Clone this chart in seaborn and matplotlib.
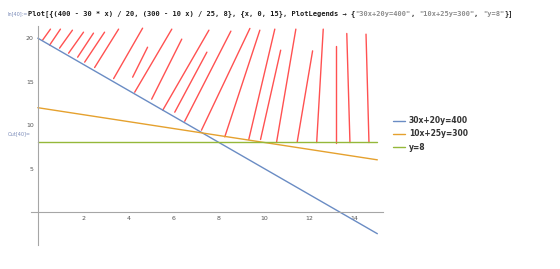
import numpy as np
import pandas as pd
import matplotlib
matplotlib.use('Agg')
import matplotlib.pyplot as plt
import seaborn as sns

## ============================================================= ##
## data
## ============================================================= ##

x_ends = [0, 15]
line_labels = ['30x+20y=400', '10x+25y=300', 'y=8']
line_values = [[20.0, -2.5], [12.0, 6.0], [8.0, 8.0]]
line_colors = ['#6a8cc4', '#e5a12e', '#95b83a']

# hand drawn red hatching, (x0, y0, x1, y1) in data units
red_x0 = [0.21, 0.52, 0.96, 1.36, 1.76, 2.07, 2.51, 3.35, 4.19, 4.28, 5.03, 5.52,
          6.05, 6.49, 7.23, 8.26, 9.32, 9.84, 10.55, 11.46, 12.32, 13.17, 13.79, 14.63]
red_y0 = [19.77, 19.19, 18.85, 18.27, 17.81, 17.24, 16.62, 15.35, 15.51, 13.78, 12.98, 11.71,
          11.48, 10.44, 9.41, 8.64, 8.34, 8.34, 8.06, 8.06, 7.99, 7.99, 7.99, 7.99]
red_x1 = [0.56, 1.00, 1.53, 2.02, 2.46, 2.95, 3.57, 4.63, 4.85, 5.92, 6.36, 7.56,
          7.47, 8.53, 9.37, 9.81, 10.47, 10.73, 11.40, 12.14, 12.61, 13.17, 13.65, 14.50]
red_y1 = [21.04, 21.04, 20.92, 20.69, 20.58, 20.69, 21.04, 21.15, 18.96, 21.04, 19.89, 20.92,
          18.39, 20.81, 21.12, 20.92, 21.04, 18.62, 21.04, 18.54, 21.04, 19.08, 20.54, 20.46]

xtick_major = [2, 4, 6, 8, 10, 12, 14]
ytick_major = [5, 10, 15, 20]

code_parts = [
    ('Plot[{(400 - 30 * x) / 20, (300 - 10 x) / 25, 8}, {x, 0, 15}, PlotLegends \u2192 {', '#1a1a1a'),
    ('"30x+20y=400"', '#8c8c8c'), (', ', '#1a1a1a'),
    ('"10x+25y=300"', '#8c8c8c'), (', ', '#1a1a1a'),
    ('"y=8"', '#8c8c8c'), ('}]', '#1a1a1a'),
]

## ============================================================= ##

rows = []
for lab, vals in zip(line_labels, line_values):
    for xv, yv in zip(x_ends, vals):
        rows.append({'x': xv, 'y': yv, 'curve': lab})
df = pd.DataFrame(rows)

df_red = pd.DataFrame({'x': red_x0 + red_x1, 'y': red_y0 + red_y1,
                       'seg': list(range(len(red_x0))) * 2})

sns.set_style('white')
fig = plt.figure(figsize=(5.6, 2.69), dpi=100)
ax = fig.add_axes([31 / 560., 24 / 269., 352 / 560., 219 / 269.])

sns.lineplot(data=df_red, x='x', y='y', units='seg', estimator=None, sort=False,
             color='#ff3333', lw=1.0, alpha=0.85, ax=ax, legend=False)
sns.lineplot(data=df, x='x', y='y', hue='curve', palette=line_colors,
             hue_order=line_labels, lw=1.0, ax=ax)

ax.set_xlim(-0.3, 15.25)
ax.set_ylim(-3.8, 21.4)
ax.set_xlabel('')
ax.set_ylabel('')

for s in ['top', 'right']:
    ax.spines[s].set_visible(False)
ax.spines['left'].set_position(('data', 0))
ax.spines['bottom'].set_position(('data', 0))
for s in ['left', 'bottom']:
    ax.spines[s].set_color('#a6a6a6')
    ax.spines[s].set_linewidth(0.8)

ax.set_xticks(xtick_major)
ax.set_xticks(np.arange(0.5, 15.1, 0.5), minor=True)
ax.set_yticks(ytick_major)
ax.set_yticks(np.arange(-3, 21.1, 1), minor=True)
ax.tick_params(which='major', direction='in', length=3, width=0.6, color='#a6a6a6',
               labelsize=4.5, labelcolor='#555555', pad=3)
ax.tick_params(which='minor', direction='in', length=1.8, width=0.5, color='#a6a6a6')

leg = ax.legend(loc='center left', bbox_to_anchor=(386 / 560., 135 / 269.),
                bbox_transform=fig.transFigure, frameon=False, fontsize=5.5,
                handlelength=1.6, handletextpad=0.5, labelspacing=0.55)
for t in leg.get_texts():
    t.set_color('#333333')
    t.set_fontweight('bold')

# notebook decorations
fig.text(8 / 560., 1 - 14 / 269., 'In[40]:=', fontsize=3.5, color='#7a8ab8', va='center')
renderer = fig.canvas.get_renderer()
xpos = 28 / 560.
for txt, col in code_parts:
    t = fig.text(xpos, 1 - 14 / 269., txt, fontsize=5.0, family='DejaVu Sans Mono',
                 fontweight='bold', color=col, va='center')
    bb = t.get_window_extent(renderer=renderer)
    xpos += bb.width / fig.bbox.width
fig.text(8 / 560., 1 - 134 / 269., 'Out[40]=', fontsize=3.5, color='#7a8ab8', va='center')

fig.savefig('out.png', dpi=100)
